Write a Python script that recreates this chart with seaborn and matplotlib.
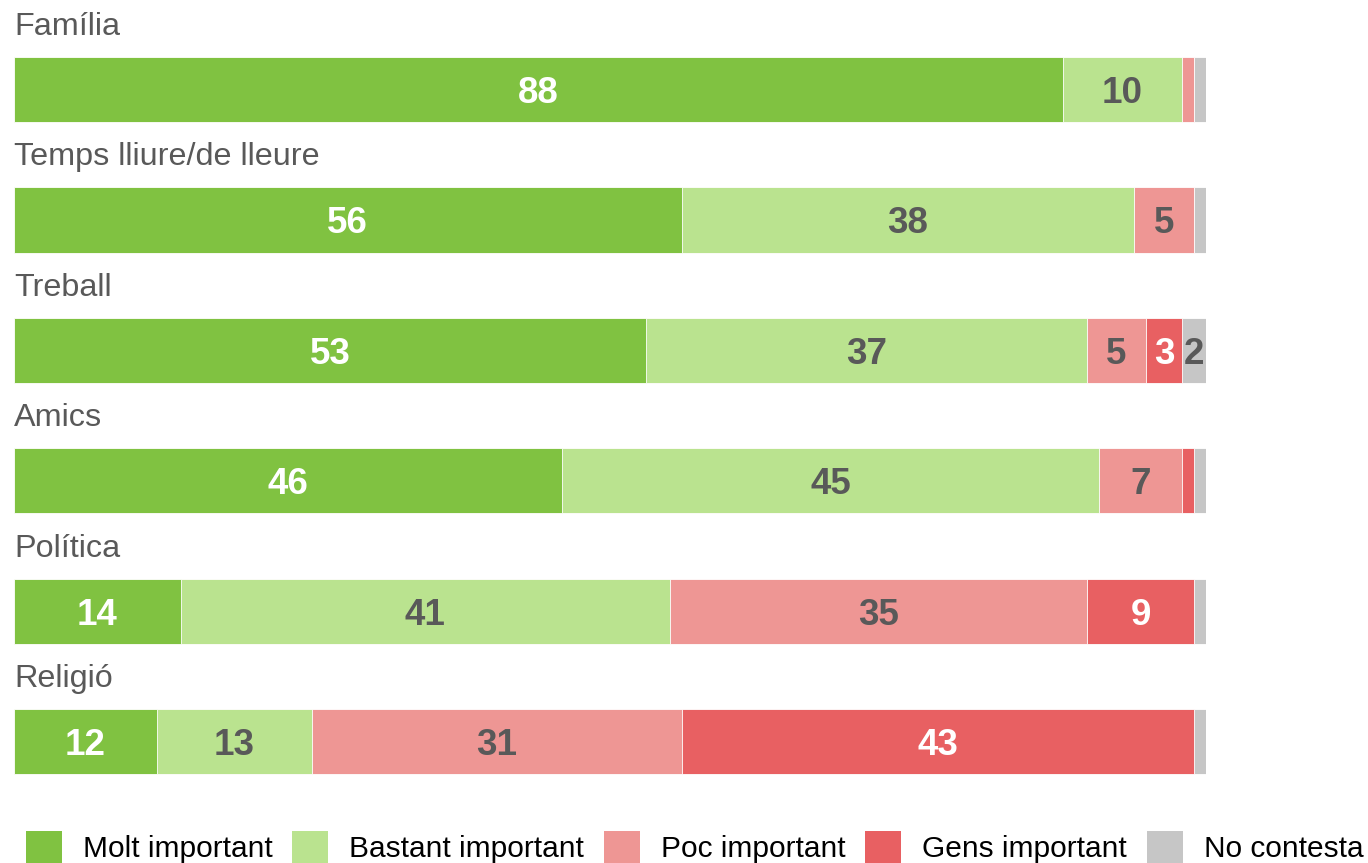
import numpy as np
import pandas as pd
import matplotlib
matplotlib.use('Agg')
import matplotlib.pyplot as plt
import seaborn as sns
from matplotlib.patches import Patch

# dades (percentatges)
categories = ['Família', 'Temps lliure/de lleure', 'Treball', 'Amics', 'Política', 'Religió']
series = ['Molt important', 'Bastant important', 'Poc important', 'Gens important', 'No contesta']
molt = [88, 56, 53, 46, 14, 12]
bastant = [10, 38, 37, 45, 41, 13]
poc = [1, 5, 5, 7, 35, 31]
gens = [0, 0, 3, 1, 9, 43]
no_contesta = [1, 1, 2, 1, 1, 1]

colors = ['#80C241', '#BAE38F', '#EE9694', '#E86062', '#C6C6C6']
text_colors = ['white', '#595959', '#595959', 'white', '#595959']

sns.set_style('white')
plt.rcParams['font.family'] = ['Liberation Sans', 'DejaVu Sans']

vals = np.array([molt, bastant, poc, gens, no_contesta], dtype=float)
cum = np.cumsum(vals, axis=0)

fig = plt.figure(figsize=(13.68, 8.63), dpi=100)
ax = fig.add_axes([14 / 1368, 0.0652, 1192 / 1368, 0.9217])

# barres apilades: es dibuixa el total acumulat de més gran a més petit
for k in reversed(range(len(series))):
    df = pd.DataFrame({'cat': categories, 'val': cum[k]})
    sns.barplot(data=df, x='val', y='cat', orient='h', color=colors[k], saturation=1,
                width=0.5, edgecolor='white', linewidth=0.6, ax=ax)

# etiquetes de valors
for k in range(len(series)):
    for i in range(len(categories)):
        v = vals[k, i]
        if v >= 2:
            xc = cum[k, i] - v / 2
            ax.text(xc, i + 0.03, f'{int(v)}', ha='center', va='center', fontsize=26.5,
                    fontweight='bold', color=text_colors[k])

# noms de categoria a sobre de cada barra
for i, c in enumerate(categories):
    ax.text(0, i - 0.48, c, ha='left', va='center', fontsize=23.3, color='#595959', clip_on=False)

ax.set_xlim(0, 100)
ax.set_ylim(5.5, -0.6)
ax.set(xticks=[], yticks=[], xlabel='', ylabel='')
sns.despine(ax=ax, left=True, bottom=True)

handles = [Patch(facecolor=c, edgecolor='none') for c in colors]
fig.legend(handles, series, loc='center left', bbox_to_anchor=(26 / 1368, 1 - 847 / 863),
           ncol=5, frameon=False, fontsize=21.5, handlelength=1.2, handleheight=1.25,
           handletextpad=0.7, columnspacing=0.67, borderpad=0, borderaxespad=0,
           labelcolor='black')

fig.savefig('out.png', dpi=100)
